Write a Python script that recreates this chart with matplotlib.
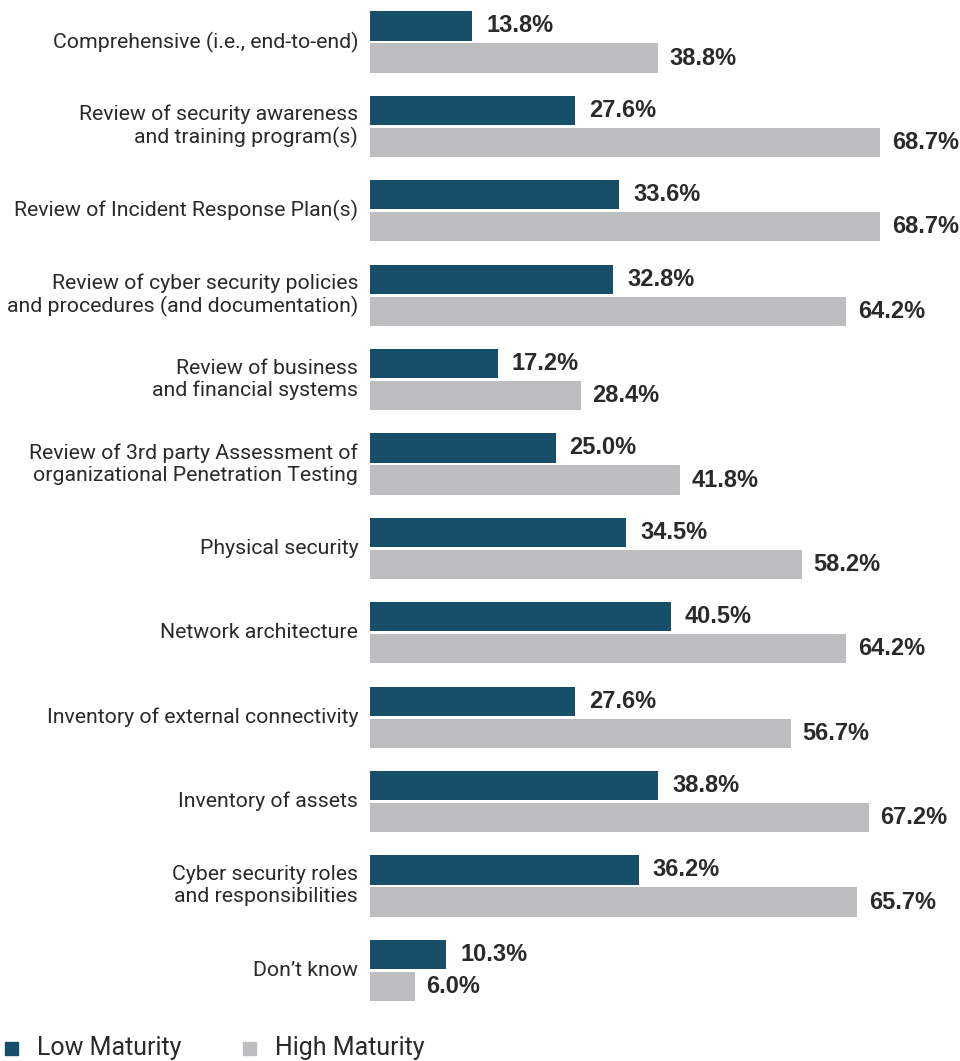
import matplotlib.pyplot as plt
from matplotlib.patches import Rectangle

categories = [
    "Comprehensive (i.e., end-to-end)",
    "Review of security awareness\nand training program(s)",
    "Review of Incident Response Plan(s)",
    "Review of cyber security policies\nand procedures (and documentation)",
    "Review of business\nand financial systems",
    "Review of 3rd party Assessment of\norganizational Penetration Testing",
    "Physical security",
    "Network architecture",
    "Inventory of external connectivity",
    "Inventory of assets",
    "Cyber security roles\nand responsibilities",
    "Don\u2019t know",
]
low_maturity = [13.8, 27.6, 33.6, 32.8, 17.2, 25.0, 34.5, 40.5, 27.6, 38.8, 36.2, 10.3]
high_maturity = [38.8, 68.7, 68.7, 64.2, 28.4, 41.8, 58.2, 64.2, 56.7, 67.2, 65.7, 6.0]

dark = '#174F68'
gray = '#BDBDBF'
text_color = '#2a2a2a'

fig = plt.figure(figsize=(9.6, 10.61), dpi=100)
ax = fig.add_axes([370 / 960, 0, 590 / 960, 1])

pitch = 84.4
ax.set_ylim((1061 - 42) / pitch, -42 / pitch)
ax.set_xlim(0, 590 / 7.42)

h = 0.345
off = 0.19
for i, (lo, hi) in enumerate(zip(low_maturity, high_maturity)):
    ax.barh(i - off, lo, height=h, color=dark)
    ax.barh(i + off, hi, height=h, color=gray)
    ax.text(lo + 1.9, i - off, f"{lo:.1f}%", va='center', ha='left',
            fontsize=17, fontweight='bold', color=text_color, family='Liberation Sans')
    ax.text(hi + 1.6, i + off, f"{hi:.1f}%", va='center', ha='left',
            fontsize=17, fontweight='bold', color=text_color, family='Liberation Sans')
    ax.text(-1.6, i, categories[i], va='center', ha='right', fontsize=15.3,
            color=text_color, family='Roboto', fontweight='normal', linespacing=1.2)

ax.axis('off')

# legend along the bottom
fig.patches.append(Rectangle((5 / 960, 1 - 1055 / 1061), 13 / 960, 13 / 1061,
                             transform=fig.transFigure, color=dark))
fig.text(37 / 960, 1 - 1048 / 1061, "Low Maturity", va='center', ha='left',
         fontsize=18, color=text_color, family='Roboto', fontweight='normal')
fig.patches.append(Rectangle((243 / 960, 1 - 1055 / 1061), 13 / 960, 13 / 1061,
                             transform=fig.transFigure, color=gray))
fig.text(275 / 960, 1 - 1048 / 1061, "High Maturity", va='center', ha='left',
         fontsize=18, color=text_color, family='Roboto', fontweight='normal')

plt.savefig('out.png', dpi=100)
plt.close()
